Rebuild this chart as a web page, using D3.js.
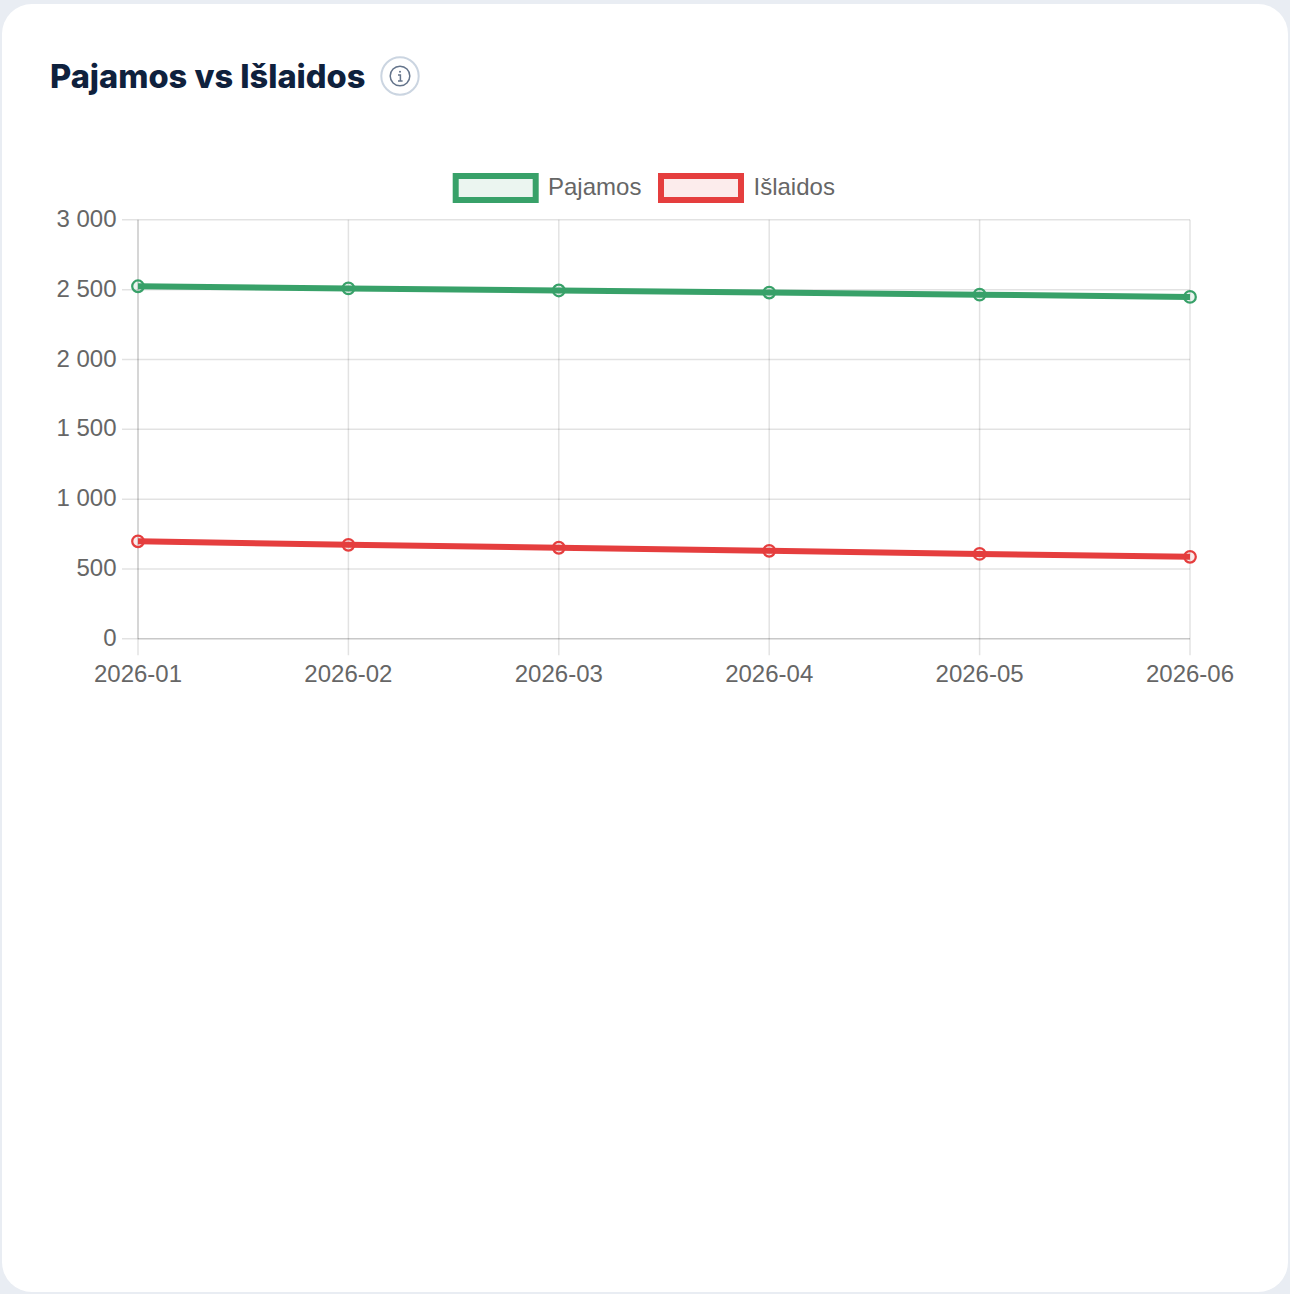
<!DOCTYPE html>
<html>
<head>
<meta charset="utf-8">
<script src="https://cdn.jsdelivr.net/npm/d3@7/dist/d3.min.js"></script>
<style>
html,body{margin:0;padding:0;width:1290px;height:1294px;overflow:hidden;background:#e9edf3}
svg{display:block;position:absolute;left:0;top:0}
.tk{font-family:"Liberation Sans",Arial,sans-serif;font-size:24px;fill:#666}
.title{font-family:Inter,sans-serif;font-weight:800;font-size:32.6px;fill:#0f213d}
</style>
</head>
<body>
<svg id="c" width="1290" height="1294"></svg>
<script>
const categories = ["2026-01","2026-02","2026-03","2026-04","2026-05","2026-06"];
const income = [2524, 2509, 2494, 2479, 2464, 2448];
const expenses = [698, 673, 652, 630, 608, 587];
const yTicks = [0, 500, 1000, 1500, 2000, 2500, 3000];
const seriesNames = ["Pajamos", "Išlaidos"];
const titleText = "Pajamos vs Išlaidos";

const svg = d3.select("#c");
svg.append("rect").attr("x",2).attr("y",4).attr("width",1286).attr("height",1288).attr("rx",30).attr("fill","#fff");

svg.append("text").attr("class","title").attr("x",50).attr("y",88).text(titleText);

// info button
const info = svg.append("g").attr("transform","translate(400,76)");
info.append("circle").attr("r",18.7).attr("fill","#fff").attr("stroke","#cbd5e1").attr("stroke-width",2);
info.append("circle").attr("r",9.8).attr("fill","none").attr("stroke","#64748b").attr("stroke-width",1.5);
info.append("path").attr("d","M-2,-1 H0.4 V5 M-2,5 H2.6").attr("fill","none").attr("stroke","#64748b").attr("stroke-width",1.5);
info.append("circle").attr("cy",-4.2).attr("r",1).attr("fill","#64748b");

const x = d3.scalePoint().domain(categories).range([138,1190]);
const y = d3.scaleLinear().domain([0,3000]).range([638.8,219.8]);
const fmt = d3.formatLocale({decimal:",",thousands:"\u00a0",grouping:[3],currency:["","€"]}).format(",d");
const gridColor = "rgba(0,0,0,0.115)";

const gy = svg.append("g").attr("transform","translate(138,0)")
  .call(d3.axisLeft(y).offset(0).tickValues(yTicks).tickFormat(fmt).tickSize(16).tickPadding(5.5));
gy.select(".domain").remove();
gy.selectAll(".tick line").attr("stroke",gridColor).attr("stroke-width",1.5).attr("x1",-16).attr("x2",1052);
gy.selectAll(".tick text").attr("class","tk").attr("dy",null).attr("y",0.7).attr("dominant-baseline","middle");

const gx = svg.append("g").attr("transform","translate(0,638.8)")
  .call(d3.axisBottom(x).offset(0).tickSize(16).tickPadding(10));
gx.select(".domain").remove();
gx.selectAll(".tick line").attr("stroke",gridColor).attr("stroke-width",1.5).attr("y1",-419).attr("y2",16.5);
gx.selectAll(".tick text").attr("class","tk");

// axis borders
svg.append("line").attr("x1",138).attr("x2",138).attr("y1",219.8).attr("y2",638.8).attr("stroke",gridColor).attr("stroke-width",1.5);
svg.append("line").attr("x1",138).attr("x2",1190).attr("y1",638.8).attr("y2",638.8).attr("stroke",gridColor).attr("stroke-width",1.5);

const series = [
  {name:seriesNames[1],values:expenses,color:"#e53e3e",fill:"rgba(229,62,62,0.1)"},
  {name:seriesNames[0],values:income,color:"#38a169",fill:"rgba(56,161,105,0.1)"}
];
const line = d3.line().x((d,i)=>x(categories[i])).y(d=>y(d));
series.forEach(s=>{
  svg.append("path").attr("d",line(s.values)).attr("fill","none").attr("stroke",s.color).attr("stroke-width",6);
  svg.append("g").selectAll("circle").data(s.values).join("circle")
    .attr("cx",(d,i)=>x(categories[i])).attr("cy",d=>y(d)).attr("r",5.8)
    .attr("fill",s.fill).attr("stroke",s.color).attr("stroke-width",2.25);
});

// legend
const legend = [
  {name:seriesNames[0],color:"#38a169",fill:"#ebf5f0",bx:455.7,tx:548},
  {name:seriesNames[1],color:"#e53e3e",fill:"#fcecec",bx:661,tx:753.5}
];
legend.forEach(l=>{
  svg.append("rect").attr("x",l.bx).attr("y",176).attr("width",80).attr("height",24)
    .attr("fill",l.fill).attr("stroke",l.color).attr("stroke-width",6);
  svg.append("text").attr("class","tk").attr("x",l.tx).attr("y",195).text(l.name);
});
</script>
</body>
</html>
